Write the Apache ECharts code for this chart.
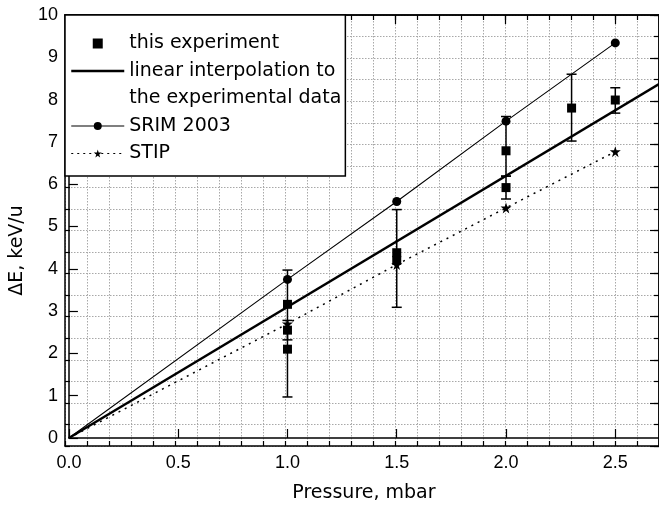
<!DOCTYPE html>
<html>
<head>
<meta charset="utf-8">
<script src="https://cdn.jsdelivr.net/npm/echarts@6/dist/echarts.min.js"></script>
<style>
html,body{margin:0;padding:0;background:#fff;}
#chart{width:659px;height:508px;}
</style>
</head>
<body>
<div id="chart"></div>
<script>
// measured points
var expX = [1.0, 1.0, 1.0, 1.5, 1.5, 2.0, 2.0, 2.3, 2.5];
var expY = [3.16, 2.55, 2.1, 4.38, 4.2, 6.79, 5.92, 7.8, 7.99];
// error bars (x, low, high)
var errX = [1.0, 1.0, 1.5, 2.0, 2.0, 2.3, 2.5];
var errLow = [0.97, 2.32, 3.09, 6.19, 5.65, 7.02, 7.68];
var errHigh = [3.97, 2.78, 5.40, 7.6, 6.19, 8.6, 8.28];
// calculations
var calcX = [0, 1.0, 1.5, 2.0, 2.5];
var srimY = [0, 3.75, 5.59, 7.49, 9.34];
var stipY = [0, 2.7, 4.1, 5.44, 6.77];
// linear fit end points
var fitX = [0, 2.7];
var fitY = [0, 8.37];

var FONT = 'Liberation Sans';
var LFONT = 'DejaVu Sans';
var STAR = 'path://M50,0 L61,35 L98,35 L68,57 L79,91 L50,70 L21,91 L32,57 L2,35 L39,35 Z';
var SQUARE = 'path://M0,0 L10,0 L10,10 L0,10 Z';

var chart = echarts.init(document.getElementById('chart'));

function zip(xs, ys, skipFirst){
  var out = [];
  for(var i=0;i<xs.length;i++){
    var it = {value:[xs[i], ys[i]]};
    if(skipFirst && i===0){ it.symbol = 'none'; }
    out.push(it);
  }
  return out;
}
var errData = [];
for(var i=0;i<errX.length;i++){ errData.push([errX[i], errLow[i], errHigh[i]]); }

var gridBox = {left:65, top:15, right:0, bottom:62};
var grids = [gridBox, gridBox, gridBox, gridBox];
var gridLine = {show:true, lineStyle:{color:'#a8a8a8', type:[1.5,1.5], width:1}};

function xAx(idx, pos, interval, tickLen, opts){
  return Object.assign({
    type:'value', gridIndex:idx, position:pos, min:0, max:2.7, interval:interval,
    axisLine:{show:true, onZero:false, lineStyle:{color:'#000', width:1.5}},
    axisTick:{show:true, inside:true, length:tickLen, lineStyle:{color:'#000', width:1.2}},
    axisLabel:{show:false},
    splitLine:{show:false}
  }, opts || {});
}
function yAx(idx, pos, interval, tickLen, opts){
  return Object.assign({
    type:'value', gridIndex:idx, position:pos, min:0, max:10, interval:interval,
    axisLine:{show:true, onZero:false, lineStyle:{color:'#000', width:1.5}},
    axisTick:{show:true, inside:true, length:tickLen, lineStyle:{color:'#000', width:1.2}},
    axisLabel:{show:false},
    splitLine:{show:false}
  }, opts || {});
}

var option = {
  animation:false,
  backgroundColor:'#fff',
  grid: grids,
  xAxis:[
    xAx(0,'bottom',0.5,9,{
      name:'Pressure, mbar', nameLocation:'middle', nameGap:46,
      nameTextStyle:{fontFamily:LFONT, fontSize:19, color:'#000'},
      axisLabel:{show:true, margin:16, showMaxLabel:false, fontFamily:FONT, fontSize:18, color:'#000',
        formatter:function(v){ return v.toFixed(1); }}
    }),
    xAx(1,'bottom',0.1,5,{splitLine:gridLine}),
    xAx(2,'top',0.5,9),
    xAx(3,'top',0.1,5)
  ],
  yAxis:[
    yAx(0,'left',1,9,{
      name:'\u0394E, keV/u', nameLocation:'middle', nameGap:20,
      nameTextStyle:{fontFamily:LFONT, fontSize:19, color:'#000', padding:[0,48,0,0]},
      axisLabel:{show:true, margin:11, fontFamily:FONT, fontSize:18, color:'#000'}
    }),
    yAx(1,'left',0.5,5,{splitLine:gridLine}),
    yAx(2,'right',1,9),
    yAx(3,'right',0.5,5)
  ],
  legend:{
    orient:'vertical', left:65, top:15,
    backgroundColor:'#fff', borderColor:'#000', borderWidth:1.5, borderRadius:0,
    padding:[19,4,13,5], itemGap:8.5, itemWidth:53, itemHeight:10,
    selectedMode:false,
    textStyle:{fontFamily:LFONT, fontSize:19, color:'#000'},
    data:[
      {name:'this experiment', icon:SQUARE, itemStyle:{color:'#000', opacity:1}},
      {name:'linear interpolation to', itemStyle:{opacity:0}, lineStyle:{color:'#000', width:2.5}},
      {name:'the experimental data'},
      {name:'SRIM 2003', lineStyle:{color:'#000', width:1.1}},
      {name:'STIP', lineStyle:{color:'#000', width:1.2, type:[2,4]}}
    ]
  },
  series:[
    {
      name:'linear interpolation to', type:'line', xAxisIndex:0, yAxisIndex:0,
      data:zip(fitX, fitY), symbol:'none', itemStyle:{color:'#000'},
      lineStyle:{color:'#000', width:2.5}, z:3
    },
    {
      name:'the experimental data', type:'line', xAxisIndex:0, yAxisIndex:0,
      data:[], symbol:'none', lineStyle:{opacity:0}, itemStyle:{opacity:0}
    },
    {
      name:'SRIM 2003', type:'line', xAxisIndex:0, yAxisIndex:0,
      data:zip(calcX, srimY, true), symbol:'circle', symbolSize:9, showSymbol:true,
      itemStyle:{color:'#000'}, lineStyle:{color:'#000', width:1.1}, z:4
    },
    {
      name:'STIP', type:'line', xAxisIndex:0, yAxisIndex:0,
      data:zip(calcX, stipY, true), symbol:STAR, symbolSize:11, showSymbol:true,
      itemStyle:{color:'#000'}, lineStyle:{color:'#000', width:1.5, type:[2,5]}, z:4
    },
    {
      name:'errors', type:'custom', xAxisIndex:0, yAxisIndex:0, data:errData, z:5,
      renderItem:function(params, api){
        var x = api.value(0);
        var lo = api.coord([x, api.value(1)]);
        var hi = api.coord([x, api.value(2)]);
        var st = {stroke:'#000', lineWidth:1.5};
        return {type:'group', children:[
          {type:'line', shape:{x1:lo[0], y1:lo[1], x2:hi[0], y2:hi[1]}, style:st},
          {type:'line', shape:{x1:lo[0]-5, y1:lo[1], x2:lo[0]+5, y2:lo[1]}, style:st},
          {type:'line', shape:{x1:hi[0]-5, y1:hi[1], x2:hi[0]+5, y2:hi[1]}, style:st}
        ]};
      }
    },
    {
      name:'this experiment', type:'scatter', xAxisIndex:0, yAxisIndex:0,
      data:zip(expX, expY), symbol:'rect', symbolSize:9,
      itemStyle:{color:'#000', opacity:1}, z:6
    }
  ]
};
chart.setOption(option);
</script>
</body>
</html>
